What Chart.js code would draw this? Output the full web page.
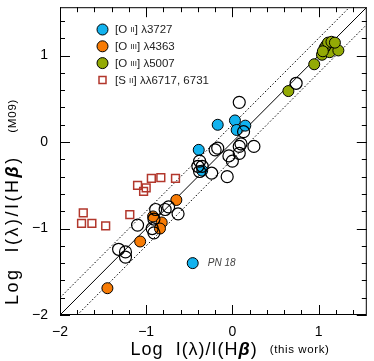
<!DOCTYPE html>
<html>
<head>
<meta charset="utf-8">
<script src="https://cdn.jsdelivr.net/npm/chart.js@4"></script>
<style>
  html, body { margin: 0; padding: 0; background: #fff; }
  #wrap { width: 374px; height: 361px; }
</style>
</head>
<body>
<div id="wrap"><canvas id="c" width="374" height="361"></canvas></div>
<script>
// ─── DATA ─────────────────────────────────────────────────────────────────
const axisMin = -2, axisMax = 1.56;
const tickLabels = [-2, -1, 0, 1];
const bandOffset = 0.2;

// [O II] 3727
const o2x = [-0.17, 0.03, 0.05, 0.15, -0.39, -0.35, -0.46];
const o2y = [0.20, 0.25, 0.14, 0.19, -0.09, -0.33, -1.40];
// [O III] 4363
const o3ax = [-1.45, -1.07, -0.92, -0.82, -0.84, -0.65];
const o3ay = [-1.69, -1.15, -0.86, -0.93, -1.00, -0.67];
// [O III] 5007
const o3bx = [0.65, 0.95, 1.04, 1.13, 1.23, 1.07, 1.09, 1.11, 1.15, 1.19, 1.05];
const o3by = [0.59, 0.90, 1.01, 1.04, 1.06, 1.09, 1.12, 1.15, 1.16, 1.15, 1.05];
// [S II] 6717,6731
const s2x = [-1.73, -1.75, -1.63, -1.47, -1.19, -1.10, -1.03, -1.00, -0.94, -0.83, -0.66];
const s2y = [-0.82, -0.94, -0.94, -0.97, -0.84, -0.50, -0.57, -0.53, -0.42, -0.41, -0.42];
// other lines
const othx = [-1.32, -1.24, -1.24, -1.10, -0.93, -0.91, -0.91, -0.89, -0.78, -0.74, -0.63,
              -0.38, -0.40, -0.38, -0.35, -0.24, -0.17, -0.20, 0.08, 0.13, 0.10, 0.08,
              0.25, -0.04, 0.00, 0.08, -0.06, 0.74];
const othy = [-1.24, -1.27, -1.33, -0.96, -1.00, -1.05, -0.89, -0.78, -0.78, -0.75, -0.83,
              -0.22, -0.28, -0.34, -0.28, -0.36, -0.07, -0.09, 0.46, 0.12, -0.02, -0.05,
              -0.05, -0.16, -0.22, -0.13, -0.40, 0.68];

const pts = (xs, ys) => xs.map((x, i) => ({ x, y: ys[i] }));

const cCyan = '#12b2ee', cOrange = '#f77b05', cGreen = '#93aa05', cRed = '#b2372c';
const FONT = '"Liberation Sans", Arial, sans-serif';

// ─── PLUGINS ──────────────────────────────────────────────────────────────
function drawParts(ctx, parts, x, y) {
  let cx = x;
  parts.forEach(p => {
    ctx.font = p.f;
    ctx.letterSpacing = p.ls || '0px';
    ctx.fillText(p.t, cx, y);
    cx += ctx.measureText(p.t).width;
  });
  ctx.letterSpacing = '0px';
  return cx;
}
function partsWidth(ctx, parts) {
  const w = parts.reduce((w, p) => {
    ctx.font = p.f; ctx.letterSpacing = p.ls || '0px';
    return w + ctx.measureText(p.t).width;
  }, 0);
  ctx.letterSpacing = '0px';
  return w;
}

const frame = {
  id: 'frame',
  afterDraw(chart) {
    const { ctx, chartArea: a, scales } = chart;
    ctx.save();
    ctx.strokeStyle = '#000';
    ctx.lineWidth = 1;
    ctx.strokeRect(a.left + 0.5, a.top + 0.5, a.right - a.left - 1, a.bottom - a.top - 1);
    ctx.beginPath();
    for (let i = 0; i <= 17; i++) {
      const v = axisMin + i * 0.2;
      const len = Math.abs(v - Math.round(v)) < 1e-6 ? 10 : 5;
      const px = Math.round(scales.x.getPixelForValue(v)) + 0.5;
      const py = Math.round(scales.y.getPixelForValue(v)) + 0.5;
      ctx.moveTo(px, a.bottom); ctx.lineTo(px, a.bottom - len);
      ctx.moveTo(px, a.top); ctx.lineTo(px, a.top + len);
      ctx.moveTo(a.left, py); ctx.lineTo(a.left + len, py);
      ctx.moveTo(a.right, py); ctx.lineTo(a.right - len, py);
    }
    ctx.stroke();

    // axis titles
    ctx.fillStyle = '#000';
    ctx.textBaseline = 'middle';
    const big = '18px ' + FONT, beta = 'italic bold 18px ' + FONT, small = '11.5px ' + FONT;
    const xt = [{ t: 'Log  I(λ)/I(H', f: big, ls: '1px' }, { t: 'β', f: beta, ls: '1px' },
                { t: ')  ', f: big, ls: '1px' }, { t: '(this work)', f: small, ls: '0.6px' }];
    const xw = partsWidth(ctx, xt);
    drawParts(ctx, xt, 230 - xw / 2, 350);
    const yt = [{ t: 'Log  I(λ)/I(H', f: big, ls: '2.5px' }, { t: 'β', f: beta, ls: '2.5px' },
                { t: ')   ', f: big, ls: '2.5px' }, { t: '(M09)', f: small, ls: '0.8px' }];
    ctx.save();
    ctx.translate(13, 305);
    ctx.rotate(-Math.PI / 2);
    drawParts(ctx, yt, 0, 0);
    ctx.restore();

    // legend
    const lf = '11.5px ' + FONT, sf = '8px ' + FONT;
    const rows = [
      { c: cCyan, s: 'circle', p: [{ t: '[O ', f: lf }, { t: 'II', f: sf }, { t: '] λ3727', f: lf }] },
      { c: cOrange, s: 'circle', p: [{ t: '[O ', f: lf }, { t: 'III', f: sf }, { t: '] λ4363', f: lf }] },
      { c: cGreen, s: 'circle', p: [{ t: '[O ', f: lf }, { t: 'III', f: sf }, { t: '] λ5007', f: lf }] },
      { c: cRed, s: 'rect', p: [{ t: '[S ', f: lf }, { t: 'II', f: sf }, { t: '] λλ6717, 6731', f: lf }] }
    ];
    rows.forEach((r, i) => {
      const y = 29.5 + i * 16.8;
      ctx.beginPath();
      if (r.s === 'circle') {
        ctx.arc(102.5, y, 5.5, 0, Math.PI * 2);
        ctx.fillStyle = r.c; ctx.fill();
        ctx.strokeStyle = '#000'; ctx.lineWidth = 1; ctx.stroke();
      } else {
        ctx.rect(99, y - 3.5, 7, 7);
        ctx.strokeStyle = r.c; ctx.lineWidth = 1.5; ctx.stroke();
      }
      ctx.fillStyle = '#222';
      drawParts(ctx, r.p, 115, y + 0.5);
    });

    // PN 18 label
    const pn = scales.x.getPixelForValue(o2x[6]), pny = scales.y.getPixelForValue(o2y[6]);
    ctx.font = 'italic 10px ' + FONT;
    ctx.fillStyle = '#444';
    ctx.fillText('PN 18', pn + 15, pny + 0.5);
    ctx.restore();
  }
};

// ─── CHART ────────────────────────────────────────────────────────────────
const lineSet = (data, dash) => ({
  type: 'line', data, borderColor: '#000', borderWidth: 1, borderDash: dash,
  pointRadius: 0, fill: false, order: 10
});
const dotSet = (data, fill, stroke, style, r, bw) => ({
  type: 'scatter', data, backgroundColor: fill, borderColor: stroke, pointStyle: style,
  pointRadius: r, pointHoverRadius: r, pointBorderWidth: bw, borderWidth: bw
});

new Chart(document.getElementById('c'), {
  type: 'scatter',
  data: {
    datasets: [
      lineSet([{ x: axisMin, y: axisMin }, { x: axisMax, y: axisMax }], []),
      lineSet([{ x: axisMin, y: axisMin + bandOffset }, { x: axisMax - bandOffset, y: axisMax }], [1.5, 2]),
      lineSet([{ x: axisMin + bandOffset, y: axisMin }, { x: axisMax, y: axisMax - bandOffset }], [1.5, 2]),
      dotSet(pts(othx, othy), 'rgba(0,0,0,0)', '#000', 'circle', 6, 1.2),
      dotSet(pts(s2x, s2y), 'rgba(255,255,255,0)', cRed, 'rect', 5.5, 1.5),
      dotSet(pts(o3ax, o3ay), cOrange, '#000', 'circle', 5.5, 1),
      dotSet(pts(o3bx, o3by), cGreen, '#000', 'circle', 5.5, 1),
      dotSet(pts(o2x, o2y), cCyan, '#000', 'circle', 5.5, 1)
    ]
  },
  options: {
    responsive: false, animation: false, maintainAspectRatio: false,
    layout: { padding: { top: 5, right: 3, left: 0, bottom: 0 } },
    plugins: { legend: { display: false }, tooltip: { enabled: false } },
    scales: {
      x: {
        type: 'linear', min: axisMin, max: axisMax,
        grid: { display: false, drawTicks: false }, border: { display: false },
        afterBuildTicks: s => { s.ticks = tickLabels.map(v => ({ value: v })); },
        afterFit: s => { s.height = 46; s.paddingLeft = 0; s.paddingRight = 0; },
        ticks: { color: '#000', padding: 9, font: { family: FONT, size: 14 }, maxRotation: 0,
                 callback: v => String(v).replace('-', '−') }
      },
      y: {
        type: 'linear', min: axisMin, max: axisMax,
        grid: { display: false, drawTicks: false }, border: { display: false },
        afterBuildTicks: s => { s.ticks = tickLabels.map(v => ({ value: v })); },
        afterFit: s => { s.width = 60; s.paddingTop = 0; s.paddingBottom = 0; },
        ticks: { color: '#000', padding: 12, font: { family: FONT, size: 14 },
                 callback: v => String(v).replace('-', '−') }
      }
    }
  },
  plugins: [frame]
});
</script>
</body>
</html>
